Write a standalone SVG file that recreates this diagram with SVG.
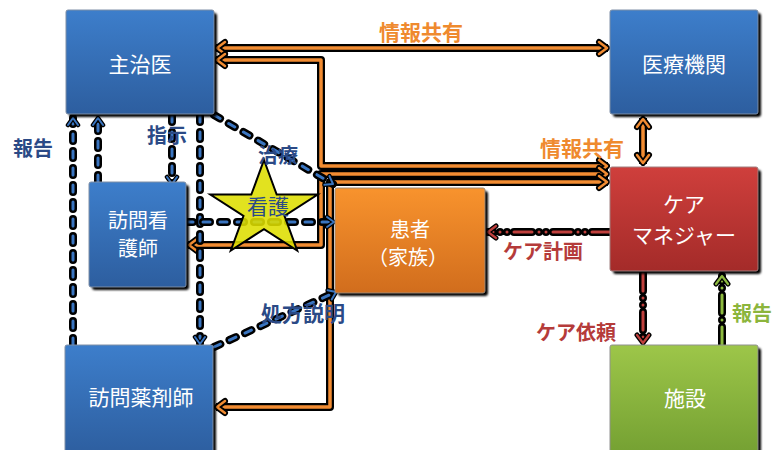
<svg xmlns="http://www.w3.org/2000/svg" width="774" height="450" viewBox="0 0 774 450">
<defs>
<style>
.box-text{font-family:"Noto Sans CJK JP","Noto Sans",sans-serif;font-size:21px;fill:#fff;text-anchor:middle}
.two{font-size:20px}
.lbl{font-family:"Noto Sans CJK JP","Noto Sans",sans-serif;font-size:20px;font-weight:bold;text-anchor:middle}
.lb-blue{fill:#2b4a86}.lb-org{fill:#ef8a2e}.lb-red{fill:#b53b3a}.lb-grn{fill:#8cb53c}
.shadow{fill:#000;filter:url(#blur)}
.o-out{fill:none;stroke:#000;stroke-width:8;stroke-linejoin:round}
.o-in{fill:none;stroke:#f28c32;stroke-width:3.5;stroke-linejoin:round}
.b-out{fill:none;stroke:#000;stroke-width:8;stroke-dasharray:7 10;stroke-linecap:round}
.b-in{fill:none;stroke:#3a75c0;stroke-width:3;stroke-dasharray:7 10;stroke-linecap:round}
.r-out{fill:none;stroke:#000;stroke-width:8;stroke-dasharray:18 7 0 7 0 7;stroke-linecap:round}
.r-in{fill:none;stroke:#c0403d;stroke-width:3;stroke-dasharray:18 7 0 7 0 7;stroke-linecap:round}
.g-out{fill:none;stroke:#000;stroke-width:8;stroke-dasharray:18 7 0 7;stroke-linecap:round}
.g-in{fill:none;stroke:#8ebb3f;stroke-width:3;stroke-dasharray:18 7 0 7;stroke-linecap:round}
</style>
<filter id="blur" x="-10%" y="-10%" width="120%" height="120%"><feGaussianBlur stdDeviation="1"/></filter>
<linearGradient id="gBlue" x1="0" y1="0" x2="0" y2="1"><stop offset="0" stop-color="#3d7ecb"/><stop offset="1" stop-color="#2d5e9f"/></linearGradient>
<linearGradient id="gOrg" x1="0" y1="0" x2="0" y2="1"><stop offset="0" stop-color="#f8932d"/><stop offset="1" stop-color="#d16d1d"/></linearGradient>
<linearGradient id="gRed" x1="0" y1="0" x2="0" y2="1"><stop offset="0" stop-color="#cf3f3c"/><stop offset="1" stop-color="#a42b29"/></linearGradient>
<linearGradient id="gGrn" x1="0" y1="0" x2="0" y2="1"><stop offset="0" stop-color="#9dc649"/><stop offset="1" stop-color="#74a032"/></linearGradient>
<marker id="aOrg" viewBox="-14 -10 16 20" refX="0" refY="0" markerWidth="16" markerHeight="20" markerUnits="userSpaceOnUse" orient="auto-start-reverse">
<path d="M-9,-6 L-1,0 L-9,6" fill="none" stroke="#000" stroke-width="6" stroke-linecap="round" stroke-linejoin="round"/>
<path d="M-9,-6 L-1,0 L-9,6" fill="none" stroke="#f28c32" stroke-width="2.5" stroke-linecap="round" stroke-linejoin="round"/>
</marker>
<marker id="aBlue" viewBox="-12 -9 14 18" refX="0" refY="0" markerWidth="14" markerHeight="18" markerUnits="userSpaceOnUse" orient="auto">
<path d="M-7,-5 L0,0 L-7,5" fill="none" stroke="#000" stroke-width="4.5" stroke-linecap="round" stroke-linejoin="round"/>
<path d="M-7,-5 L0,0 L-7,5" fill="none" stroke="#3a75c0" stroke-width="2" stroke-linecap="round" stroke-linejoin="round"/>
</marker>
<marker id="aRed" viewBox="-12 -9 14 18" refX="0" refY="0" markerWidth="14" markerHeight="18" markerUnits="userSpaceOnUse" orient="auto">
<path d="M-8,-6 L0,0 L-8,6" fill="none" stroke="#000" stroke-width="5" stroke-linecap="round" stroke-linejoin="round"/>
<path d="M-8,-6 L0,0 L-8,6" fill="none" stroke="#c0403d" stroke-width="2.2" stroke-linecap="round" stroke-linejoin="round"/>
</marker>
<marker id="aGrn" viewBox="-12 -9 14 18" refX="0" refY="0" markerWidth="14" markerHeight="18" markerUnits="userSpaceOnUse" orient="auto">
<path d="M-8,-6 L0,0 L-8,6" fill="none" stroke="#000" stroke-width="5" stroke-linecap="round" stroke-linejoin="round"/>
<path d="M-8,-6 L0,0 L-8,6" fill="none" stroke="#8ebb3f" stroke-width="2.2" stroke-linecap="round" stroke-linejoin="round"/>
</marker>
</defs>
<rect width="774" height="450" fill="#fff"/>

<g id="connectors">
<path class="o-out" d="M216,48 H608"/>
<path class="o-in" d="M216,48 H608" marker-start="url(#aOrg)" marker-end="url(#aOrg)"/>
<path class="o-out" d="M216,60 H321 V166 H608"/>
<path class="o-in" d="M216,60 H321 V166 H608" marker-start="url(#aOrg)" marker-end="url(#aOrg)"/>
<path class="o-out" d="M188,245 H321 V174 H608"/>
<path class="o-in" d="M188,245 H321 V174 H608" marker-start="url(#aOrg)" marker-end="url(#aOrg)"/>
<path class="o-out" d="M216,407 H330 V182 H608"/>
<path class="o-in" d="M216,407 H330 V182 H608" marker-start="url(#aOrg)" marker-end="url(#aOrg)"/>
<path class="o-out" d="M643,118 V164"/>
<path class="o-in" d="M643,118 V164" marker-start="url(#aOrg)" marker-end="url(#aOrg)"/>
<path class="b-out" d="M73,345 V118"/>
<path class="b-in" d="M73,345 V118" marker-end="url(#aBlue)"/>
<path class="b-out" d="M98,182 V118"/>
<path class="b-in" d="M98,182 V118" marker-end="url(#aBlue)"/>
<path class="b-out" d="M172,115 V184"/>
<path class="b-in" d="M172,115 V184" marker-end="url(#aBlue)"/>
<path class="b-out" d="M200,115 V344"/>
<path class="b-in" d="M200,115 V344" marker-end="url(#aBlue)"/>
<path class="b-out" d="M186,222 H334"/>
<path class="b-in" d="M186,222 H334" marker-end="url(#aBlue)"/>
<path class="b-out" d="M214,115 L333,184"/>
<path class="b-in" d="M214,115 L333,184" marker-end="url(#aBlue)"/>
<path class="b-out" d="M214,347 L336,292"/>
<path class="b-in" d="M214,347 L336,292" marker-end="url(#aBlue)"/>
<path class="r-out" d="M610,232 H488"/>
<path class="r-in" d="M610,232 H488" marker-end="url(#aRed)"/>
<path class="r-out" d="M643,273 V343"/>
<path class="r-in" d="M643,273 V343" marker-end="url(#aRed)"/>
<path class="g-out" d="M722,345 V276"/>
<path class="g-in" d="M722,345 V276" marker-end="url(#aGrn)"/>
</g>

<g id="n-shuchii">
<rect class="shadow" x="69" y="13" width="148" height="104" rx="3"/>
<rect x="66" y="10" width="148" height="104" rx="2" fill="url(#gBlue)" stroke="#7f8fa6" stroke-width="1"/>
<text class="box-text" x="140" y="72">主治医</text>
</g>
<g id="n-iryo">
<rect class="shadow" x="613" y="13" width="148" height="104" rx="3"/>
<rect x="610" y="10" width="148" height="104" rx="2" fill="url(#gBlue)" stroke="#7f8fa6" stroke-width="1"/>
<text class="box-text" x="684" y="72">医療機関</text>
</g>
<g id="n-kango">
<rect class="shadow" x="92" y="185" width="97" height="105" rx="3"/>
<rect x="89" y="182" width="97" height="105" rx="2" fill="url(#gBlue)" stroke="#7f8fa6" stroke-width="1"/>
<text class="box-text two" x="138" y="228">訪問看</text>
<text class="box-text two" x="138" y="256">護師</text>
</g>
<g id="n-kanja">
<rect class="shadow" x="338" y="191" width="150" height="105" rx="3"/>
<rect x="335" y="188" width="150" height="105" rx="2" fill="url(#gOrg)" stroke="#9a8a7a" stroke-width="1"/>
<text class="box-text two" x="410" y="237">患者</text>
<text class="box-text two" x="408" y="265">（家族）</text>
</g>
<g id="n-caremane">
<rect class="shadow" x="613" y="170" width="148" height="104" rx="3"/>
<rect x="610" y="167" width="148" height="104" rx="2" fill="url(#gRed)" stroke="#a08080" stroke-width="1"/>
<text class="box-text" x="684" y="212">ケア</text>
<text class="box-text" x="684" y="243">マネジャー</text>
</g>
<g id="n-yakuzai">
<rect class="shadow" x="68" y="348" width="148" height="110" rx="3"/>
<rect x="65" y="345" width="148" height="110" rx="2" fill="url(#gBlue)" stroke="#7f8fa6" stroke-width="1"/>
<text class="box-text" x="141" y="405">訪問薬剤師</text>
</g>
<g id="n-shisetsu">
<rect class="shadow" x="613" y="348" width="148" height="110" rx="3"/>
<rect x="610" y="345" width="148" height="110" rx="2" fill="url(#gGrn)" stroke="#909090" stroke-width="1"/>
<text class="box-text" x="685" y="406">施設</text>
</g>

<g id="n-star">
<polygon points="264,160 276.7,194.6 317.7,194.5 284.5,215.9 297.2,250.5 264,229.1 230.8,250.5 243.5,215.9 210.3,194.5 251.3,194.6" fill="#dede00" fill-opacity="0.88" stroke="#000" stroke-width="2"/>
<text class="lbl lb-blue" x="268" y="214" style="font-weight:normal;font-size:21px">看護</text>
</g>

<g id="labels">
<text class="lbl lb-org" x="421" y="40" style="font-size:21px">情報共有</text>
<text class="lbl lb-org" x="582" y="156" style="font-size:21px">情報共有</text>
<text class="lbl lb-blue" x="33" y="156">報告</text>
<text class="lbl lb-blue" x="167" y="143">指示</text>
<text class="lbl lb-blue" x="278" y="163">治療</text>
<text class="lbl lb-blue" x="303" y="321" style="font-size:21px">処方説明</text>
<text class="lbl lb-red" x="543" y="259">ケア計画</text>
<text class="lbl lb-red" x="576" y="340">ケア依頼</text>
<text class="lbl lb-grn" x="752" y="321">報告</text>
</g>
</svg>
